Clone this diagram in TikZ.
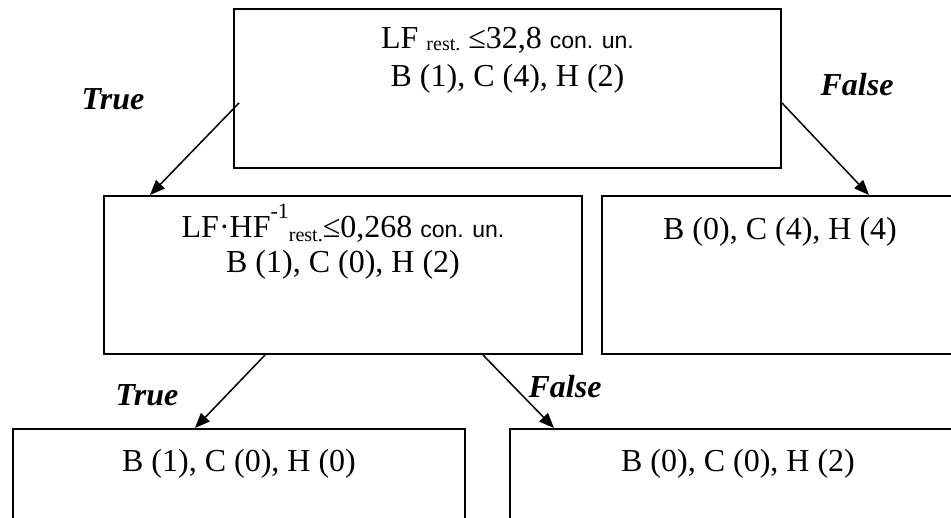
\documentclass[tikz,border=0pt]{standalone}
\usepackage{fontspec}
\setmainfont{Liberation Serif}
\setsansfont{Liberation Sans}
\usetikzlibrary{arrows.meta}

\newcommand{\sub}[2][1pt]{\raisebox{-#1}{\fontsize{10}{10}\selectfont #2}}
\newcommand{\unit}{{\sffamily\fontsize{11.5}{12}\selectfont con. un.}}

\begin{document}
\begin{tikzpicture}[x=0.5pt,y=-0.5pt,
  box/.style={draw,line width=1pt,inner sep=0pt},
  txt/.style={anchor=base,align=center,inner sep=0pt,font=\fontsize{16}{19}\selectfont},
  lbl/.style={inner sep=0pt,font=\fontsize{16}{19}\selectfont\bfseries\itshape},
  edge/.style={line width=0.75pt,-{Triangle[length=7.5pt,width=6pt]}}]
\useasboundingbox (0,0) rectangle (951,518);
\clip (0,0) rectangle (951,518);

% boxes
\node [box,minimum width=273.5pt,minimum height=79.5pt] (root) at (507.5,88.5) {};
\node [box,minimum width=239pt,minimum height=79pt] (lhf) at (343,275) {};
\node [box,minimum width=178pt,minimum height=79pt] (leafA) at (780,275) {};
\node [box,minimum width=226pt,minimum height=79pt] (leafB) at (239,508) {};
\node [box,minimum width=228pt,minimum height=79pt] (leafC) at (738,508) {};

% texts (base = last line)
\node [txt] (rootT) at ([yshift=-39.5pt]root.north) {LF \sub{rest.} ≤32,8 \unit\\B (1), C (4), H (2)};
\node [txt,font=\fontsize{16}{17.5}\selectfont] (lhfT) at ([yshift=-38.5pt]lhf.north)
  {LF·HF\raisebox{9.5pt}{\fontsize{11}{11}\selectfont -1}\sub[2pt]{rest.}≤0,268 \unit\\B (1), C (0), H (2)};
\node [txt] (leafAT) at ([yshift=-22pt]leafA.north) {B (0), C (4), H (4)};
\node [txt] (leafBT) at ([yshift=-21.5pt]leafB.north) {B (1), C (0), H (0)};
\node [txt] (leafCT) at ([yshift=-21.5pt]leafC.north) {B (0), C (0), H (2)};

% arrows
\draw [edge] ([shift={(6,14.5)}]root.west) -- ([shift={(47,0)}]lhf.north west);
\draw [edge] ([shift={(0,14.5)}]root.east) -- ([shift={(268,0)}]leafA.north west);
\draw [edge] ([shift={(162,0)}]lhf.south west) -- ([shift={(183,0)}]leafB.north west);
\draw [edge] ([shift={(380,0)}]lhf.south west) -- ([shift={(45,0)}]leafC.north west);

\node [lbl] (t1) at (113,99) {True};
\node [lbl] (f1) at (857,85) {False};
\node [lbl] (t2) at (147,395) {True};
\node [lbl] (f2) at (565,387) {False};

\end{tikzpicture}
\end{document}
